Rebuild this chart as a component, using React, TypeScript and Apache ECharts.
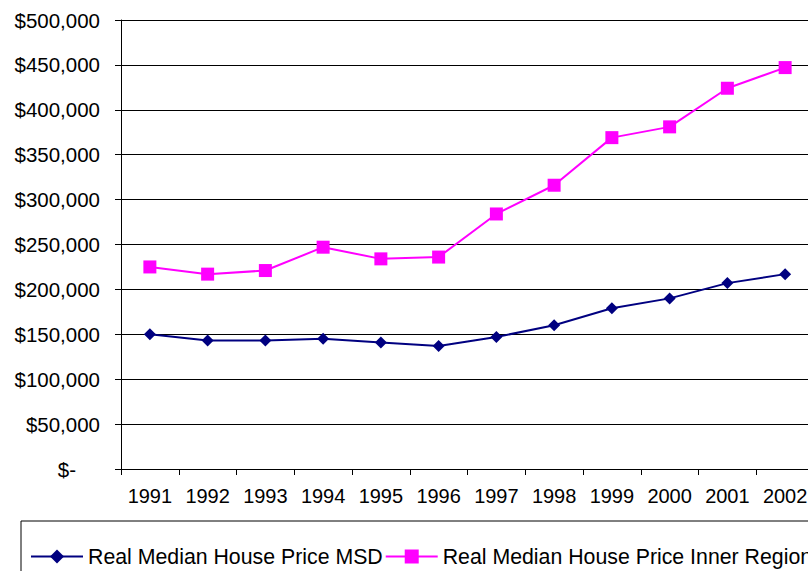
import React, { useEffect, useRef } from "react";
import * as echarts from "echarts";

const years = ["1991", "1992", "1993", "1994", "1995", "1996", "1997", "1998", "1999", "2000", "2001", "2002"];
const msdPrices = [150000, 143000, 143000, 145000, 141000, 137000, 147000, 160000, 179000, 190000, 207000, 217000];
const innerRegionPrices = [225000, 217000, 221000, 247000, 234000, 236000, 284000, 316000, 369000, 381000, 424000, 447000];
const seriesNames = ["Real Median House Price MSD", "Real Median House Price Inner Region"];

const FONT = "'Liberation Sans', Arial, sans-serif";

const formatDollar = (v: number) =>
  v === 0 ? "{zero|$-}" : "$" + v.toLocaleString("en-US");

export default function App() {
  const ref = useRef<HTMLDivElement>(null);

  useEffect(() => {
    if (!ref.current) return;
    const chart = echarts.init(ref.current, null, { renderer: "svg" });
    chart.setOption({
      animation: false,
      backgroundColor: "#fff",
      textStyle: { fontFamily: FONT, color: "#000" },
      grid: { left: 121, top: 20, height: 449, width: 693 },
      xAxis: {
        type: "category",
        data: years,
        boundaryGap: true,
        axisLine: { lineStyle: { color: "#000", width: 1 } },
        axisTick: { show: true, length: 6, interval: 0, lineStyle: { color: "#000" } },
        axisLabel: { fontSize: 20, color: "#000", fontFamily: FONT, margin: 17, interval: 0 },
      },
      yAxis: {
        type: "value",
        min: 0,
        max: 500000,
        interval: 50000,
        axisLine: { show: true, lineStyle: { color: "#000", width: 1 } },
        axisTick: { show: true, length: 6, lineStyle: { color: "#000" } },
        splitLine: { show: true, lineStyle: { color: "#000", width: 1 } },
        axisLabel: {
          fontSize: 20.5,
          color: "#000",
          fontFamily: FONT,
          margin: 21,
          formatter: formatDollar,
          rich: {
            zero: { fontSize: 20.5, color: "#000", fontFamily: FONT, padding: [0, 24, 0, 0] },
          },
        },
      },
      legend: {
        left: 21,
        top: 521,
        padding: [25, 9, 25, 9],
        borderColor: "#000",
        borderWidth: 1,
        itemWidth: 52,
        itemHeight: 17.5,
        itemGap: 2,
        textStyle: { fontSize: 21.3, color: "#000", fontFamily: FONT },
        data: seriesNames,
      },
      series: [
        {
          name: seriesNames[0],
          type: "line",
          data: msdPrices,
          symbol: "diamond",
          symbolSize: 12,
          color: "#000080",
          lineStyle: { color: "#000080", width: 2 },
          itemStyle: { color: "#000080" },
        },
        {
          name: seriesNames[1],
          type: "line",
          data: innerRegionPrices,
          symbol: "rect",
          symbolSize: 13,
          color: "#FF00FF",
          lineStyle: { color: "#FF00FF", width: 2 },
          itemStyle: { color: "#FF00FF" },
        },
      ],
    });
    return () => chart.dispose();
  }, []);

  return (
    <div
      style={{
        position: "fixed",
        left: 0,
        top: 0,
        width: 808,
        height: 571,
        overflow: "hidden",
        background: "#fff",
      }}
    >
      <div ref={ref} style={{ width: 830, height: 600 }} />
    </div>
  );
}
